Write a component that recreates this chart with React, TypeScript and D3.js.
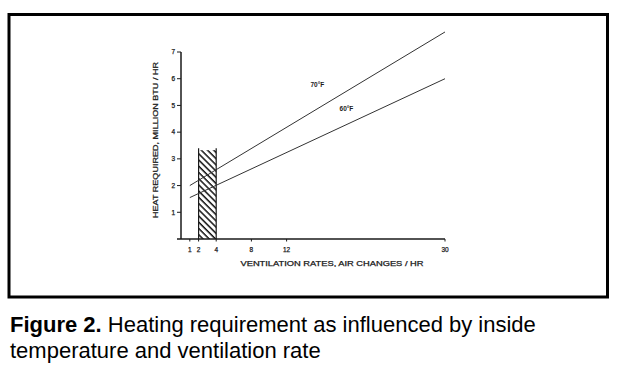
import React from "react";
import * as d3 from "d3";

// ---- data ----
const yTicks = [1, 2, 3, 4, 5, 6, 7];
const xTicks = [1, 2, 4, 8, 12, 30];
const xTickLabels = ["1", "2", "4", "8", "12", "30"];
const series70X = [1, 30];
const series70Y = [2.0, 7.75];
const series60X = [1, 30];
const series60Y = [1.55, 6.0];
const bandX = [2, 4];
const bandTop = [3.4];
const seriesLabels = ["70°F", "60°F"];
const labelPos = [
  { x: 15.5, y: 5.7 },
  { x: 18.8, y: 4.8 },
];
const yTitle = "HEAT REQUIRED, MILLION BTU / HR";
const xTitle = "VENTILATION RATES, AIR CHANGES / HR";
const captionBold = "Figure 2.";
const captionRest1 = " Heating requirement as influenced by inside";
const captionLine2 = "temperature and ventilation rate";

export default function App() {
  const W = 619;
  const H = 374;
  const x = d3.scaleLinear().domain([0, 30]).range([181, 445]);
  const y = d3.scaleLinear().domain([0, 7]).range([239, 52]);
  const line = d3
    .line<[number, number]>()
    .x((d) => x(d[0]))
    .y((d) => y(d[1]));
  const s70 = series70X.map((v, i) => [v, series70Y[i]] as [number, number]);
  const s60 = series60X.map((v, i) => [v, series60Y[i]] as [number, number]);
  const font = "'Liberation Sans', Arial, Helvetica, sans-serif";
  const ink = "#1a1a1a";
  const bx0 = x(bandX[0]);
  const bx1 = x(bandX[1]);
  const by = y(bandTop[0]);
  const smallText = { fontFamily: font, fill: ink, stroke: ink, strokeWidth: 0.25 };
  return (
    <svg
      width={W}
      height={H}
      viewBox={`0 0 ${W} ${H}`}
      style={{ position: "absolute", left: 0, top: 0, background: "#fff" }}
    >
      <defs>
        <pattern
          id="hatch"
          patternUnits="userSpaceOnUse"
          width={4.4}
          height={4.4}
          patternTransform="rotate(-45)"
        >
          <line x1={1} y1={0} x2={1} y2={4.4} stroke="#111" strokeWidth={1.5} />
        </pattern>
      </defs>
      <rect x={0} y={0} width={W} height={H} fill="#fff" />
      {/* frame */}
      <rect
        x={9}
        y={14.5}
        width={598.5}
        height={282.5}
        fill="none"
        stroke="#000"
        strokeWidth={3}
      />
      {/* hatched band */}
      <rect x={bx0} y={by + 2} width={bx1 - bx0} height={y(0) - by - 2} fill="url(#hatch)" />
      <line x1={bx0} x2={bx0} y1={by} y2={y(0)} stroke={ink} strokeWidth={1.2} />
      <line x1={bx1} x2={bx1} y1={by} y2={y(0)} stroke={ink} strokeWidth={1.2} />
      {/* axes */}
      <line x1={x(0)} x2={x(0)} y1={y(7)} y2={y(0)} stroke={ink} strokeWidth={1.5} />
      <line x1={x(0) - 4} x2={x(30)} y1={y(0)} y2={y(0)} stroke={ink} strokeWidth={1.5} />
      {yTicks.map((t) => (
        <g key={"y" + t}>
          <line x1={x(0) - 4} x2={x(0)} y1={y(t)} y2={y(t)} stroke={ink} strokeWidth={1} />
          <text x={x(0) - 6} y={y(t) + 2.3} textAnchor="end" fontSize={6.5} {...smallText}>
            {t}
          </text>
        </g>
      ))}
      {xTicks.map((t, i) => (
        <g key={"x" + t}>
          <line x1={x(t)} x2={x(t)} y1={y(0)} y2={y(0) + 2.5} stroke={ink} strokeWidth={1} />
          <text x={x(t)} y={y(0) + 12.5} textAnchor="middle" fontSize={6.5} {...smallText}>
            {xTickLabels[i]}
          </text>
        </g>
      ))}
      {/* axis titles */}
      <text
        x={332}
        y={265.5}
        textAnchor="middle"
        fontSize={7}
        textLength={183}
        lengthAdjust="spacingAndGlyphs"
        {...smallText}
      >
        {xTitle}
      </text>
      <text
        transform={`translate(157.5,140) rotate(-90)`}
        textAnchor="middle"
        fontSize={7}
        textLength={156}
        lengthAdjust="spacingAndGlyphs"
        {...smallText}
      >
        {yTitle}
      </text>
      {/* series lines */}
      <path d={line(s70) || ""} fill="none" stroke="#333" strokeWidth={1} />
      <path d={line(s60) || ""} fill="none" stroke="#333" strokeWidth={1} />
      {seriesLabels.map((l, i) => (
        <text
          key={l}
          x={x(labelPos[i].x)}
          y={y(labelPos[i].y)}
          textAnchor="middle"
          fontSize={6.5}
          fontWeight="bold"
          fontFamily={font}
          fill={ink}
        >
          {l}
        </text>
      ))}
      {/* caption */}
      <text x={10} y={332} fontFamily={font} fontSize={22} fill="#000">
        <tspan fontWeight="bold">{captionBold}</tspan>
        <tspan>{captionRest1}</tspan>
      </text>
      <text x={10} y={358} fontFamily={font} fontSize={22} fill="#000">
        {captionLine2}
      </text>
    </svg>
  );
}
